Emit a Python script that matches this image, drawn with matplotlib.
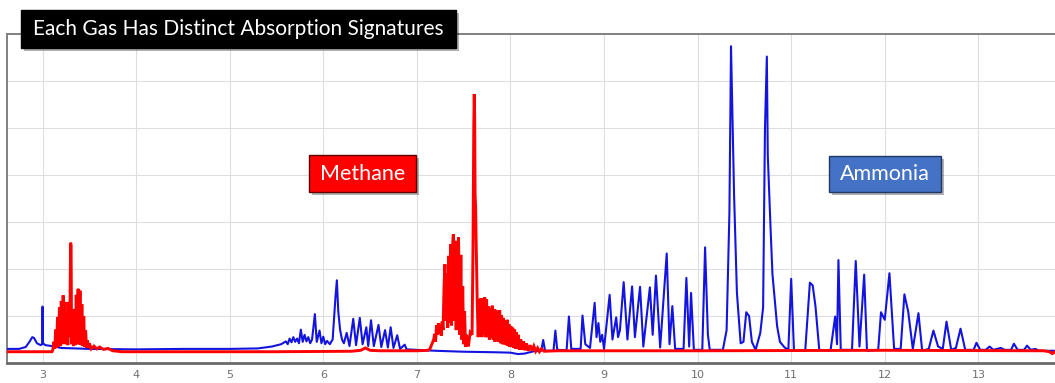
import matplotlib
matplotlib.use('Agg')
import matplotlib.pyplot as plt
from matplotlib.patches import Rectangle
import numpy as np

# wavelength (um) vs absorbance (arbitrary units)
NH3_UM = [2.62, 2.75, 2.82, 2.86, 2.89, 2.91, 2.94, 2.98, 2.995, 3.00, 3.005, 3.03, 3.10, 3.20,
          3.50, 4.00, 4.50, 5.00, 5.30, 5.45, 5.55,
          5.60, 5.62, 5.64, 5.66, 5.68, 5.70, 5.72, 5.74, 5.76, 5.78, 5.80, 5.82, 5.84, 5.86,
          5.88, 5.91, 5.93, 5.96, 5.98, 6.00, 6.02, 6.04, 6.07, 6.10, 6.13, 6.145, 6.16, 6.18,
          6.20, 6.22, 6.25, 6.28, 6.32, 6.35, 6.39, 6.42, 6.46, 6.48, 6.51, 6.54, 6.59, 6.62,
          6.66, 6.69, 6.72, 6.75, 6.79, 6.82, 6.87, 6.89,
          7.00, 7.20, 7.50, 7.80, 8.00, 8.08, 8.15, 8.25,
          8.33, 8.35, 8.37, 8.46, 8.48, 8.50, 8.60, 8.625, 8.65, 8.75, 8.77, 8.80, 8.85, 8.90,
          8.92, 8.94, 8.96, 8.98, 9.00, 9.06, 9.09, 9.13, 9.15, 9.17, 9.21, 9.25, 9.30, 9.33,
          9.385, 9.42, 9.49, 9.52, 9.555, 9.60, 9.67, 9.70, 9.73, 9.76, 9.85, 9.88, 9.91, 9.93,
          9.96, 10.05, 10.08, 10.11, 10.13, 10.27, 10.31, 10.34, 10.357, 10.39, 10.42, 10.46,
          10.49, 10.52, 10.55, 10.58, 10.62, 10.67, 10.70, 10.72, 10.74, 10.75, 10.78, 10.80,
          10.85, 10.88, 10.93, 10.97, 11.00, 11.03, 11.15, 11.20, 11.23, 11.26, 11.30, 11.42,
          11.47, 11.49, 11.505, 11.53, 11.65, 11.69, 11.73, 11.78, 11.81, 11.93, 11.96, 12.00,
          12.05, 12.10, 12.17, 12.21, 12.25, 12.30, 12.36, 12.40, 12.47, 12.52, 12.57, 12.62,
          12.66, 12.71, 12.76, 12.81, 12.86, 12.95, 12.98, 13.02, 13.08, 13.12, 13.16, 13.24,
          13.28, 13.35, 13.38, 13.42, 13.49, 13.52, 13.56, 13.61, 13.65, 13.83]
NH3_ABS = [0.30, 0.30, 0.34, 0.45, 0.55, 0.53, 0.42, 0.38, 0.40, 1.20, 0.42, 0.38, 0.36, 0.32,
           0.30, 0.29, 0.30, 0.30, 0.31, 0.35, 0.40,
           0.46, 0.40, 0.52, 0.44, 0.55, 0.45, 0.52, 0.42, 0.71, 0.45, 0.60, 0.46, 0.55, 0.42,
           0.50, 1.04, 0.45, 0.69, 0.42, 0.56, 0.40, 0.47, 0.40, 0.50, 1.40, 1.76, 1.10, 0.70,
           0.50, 0.42, 0.64, 0.36, 0.94, 0.38, 0.96, 0.40, 0.76, 0.36, 0.91, 0.36, 0.81, 0.34,
           0.70, 0.33, 0.76, 0.32, 0.59, 0.30, 0.39, 0.29,
           0.28, 0.26, 0.24, 0.23, 0.22, 0.19, 0.20, 0.25,
           0.26, 0.49, 0.26, 0.26, 0.69, 0.28, 0.27, 0.99, 0.30, 0.30, 1.01, 0.40, 0.32, 1.28,
           0.55, 0.85, 0.45, 0.60, 0.30, 1.45, 0.50, 0.97, 0.55, 0.70, 1.72, 0.50, 1.63, 0.55,
           1.62, 0.35, 1.61, 0.60, 1.86, 0.33, 2.33, 0.40, 1.21, 0.30, 0.30, 1.81, 0.35, 1.49,
           0.28, 0.28, 2.46, 0.60, 0.28, 0.28, 0.70, 3.20, 6.74, 3.56, 1.50, 0.42,
           0.45, 1.08, 1.00, 0.45, 0.28, 0.64, 1.18, 5.00, 6.52, 4.42, 2.85, 1.89,
           0.78, 0.45, 0.33, 0.28, 1.79, 0.26, 0.26, 1.71, 1.65, 1.20, 0.28, 0.26,
           0.99, 0.40, 2.19, 0.28, 0.28, 2.17, 0.35, 1.88, 0.26, 0.28, 1.08, 0.92,
           1.91, 0.30, 0.30, 1.46, 1.10, 0.30, 1.06, 0.26, 0.30, 0.69, 0.35, 0.30,
           0.88, 0.28, 0.32, 0.73, 0.28, 0.28, 0.43, 0.28, 0.28, 0.35, 0.28, 0.32,
           0.28, 0.28, 0.41, 0.28, 0.28, 0.37, 0.28, 0.30, 0.26, 0.26]

# methane: baseline plus the two dense bands (3.3 um and 7.7 um)
CH4_UM_A = [2.62, 3.10, 3.11, 3.12, 3.13, 3.14, 3.15, 3.16, 3.17, 3.18, 3.19, 3.20, 3.21, 3.22,
            3.23, 3.24, 3.25, 3.26, 3.27, 3.28, 3.29, 3.30, 3.305, 3.31, 3.32, 3.33, 3.34, 3.35,
            3.36, 3.37, 3.38, 3.39, 3.40, 3.41, 3.42, 3.43, 3.44, 3.45, 3.46, 3.47, 3.48, 3.49,
            3.50, 3.52, 3.55, 3.58, 3.61, 3.65, 3.70, 3.75, 3.85]
CH4_ABS_A = [0.24, 0.24, 0.28, 0.45, 0.30, 0.71, 0.32, 0.98, 0.35, 1.18, 0.36, 1.32, 0.40, 1.44,
             0.42, 1.30, 0.40, 1.05, 0.38, 1.30, 0.55, 2.56, 2.50, 0.40, 1.00, 0.36, 1.15, 0.38,
             1.45, 0.40, 1.58, 0.40, 1.54, 0.38, 1.25, 0.36, 1.00, 0.34, 0.70, 0.33, 0.48, 0.32,
             0.42, 0.30, 0.36, 0.30, 0.34, 0.29, 0.31, 0.26, 0.24]
CH4_UM_B = [4.50, 5.50, 6.30, 6.40, 6.45, 6.50, 6.60, 7.00, 7.12,
            7.14, 7.16, 7.18, 7.19, 7.20, 7.21, 7.22, 7.23, 7.24, 7.25, 7.26, 7.27, 7.28, 7.29,
            7.30, 7.31, 7.32, 7.33, 7.34, 7.35, 7.36, 7.37, 7.38, 7.39, 7.40, 7.41, 7.42, 7.43,
            7.44, 7.445, 7.46, 7.47, 7.48, 7.49, 7.50, 7.51, 7.52, 7.53, 7.55, 7.57, 7.59, 7.60,
            7.608, 7.613, 7.618, 7.622, 7.628, 7.635, 7.645]
CH4_ABS_B = [0.24, 0.24, 0.25, 0.27, 0.32, 0.27, 0.26, 0.26, 0.27,
             0.30, 0.40, 0.50, 0.62, 0.45, 0.80, 0.60, 0.85, 0.62, 0.82, 0.58, 0.88, 0.70, 1.60,
             2.10, 0.90, 1.90, 0.75, 2.28, 0.85, 2.53, 0.80, 2.45, 2.74, 0.90, 2.60, 0.70, 2.30,
             0.75, 2.67, 0.60, 2.30, 0.50, 1.63, 0.40, 1.10, 0.35, 0.60, 0.35, 0.65, 0.60, 2.50,
             5.00, 5.72, 5.20, 3.60, 3.30, 2.40, 1.30]
CH4_UM_C = [7.655, 7.665, 7.675, 7.685, 7.695, 7.705, 7.715, 7.725, 7.735, 7.745, 7.755, 7.765,
            7.775, 7.785, 7.795, 7.805, 7.815, 7.825, 7.835, 7.845, 7.855, 7.865, 7.875, 7.885,
            7.895, 7.905, 7.915, 7.925, 7.935, 7.945, 7.955, 7.965, 7.975, 7.985, 7.995, 8.005,
            8.015, 8.025, 8.035, 8.045, 8.055, 8.065, 8.075, 8.085, 8.095, 8.11, 8.125, 8.14,
            8.155, 8.17, 8.19, 8.21, 8.23, 8.25, 8.27, 8.29, 8.31, 8.33, 8.36,
            8.50, 10.0, 12.0, 13.70, 13.76, 13.79, 13.82]
CH4_ABS_C = [0.55, 1.35, 0.60, 1.38, 0.55, 1.38, 0.60, 1.40, 0.55, 1.35, 0.55, 1.20,
             0.50, 1.17, 0.55, 1.22, 0.50, 1.15, 0.45, 1.13, 0.50, 1.10, 0.45, 1.12,
             0.42, 1.02, 0.40, 0.96, 0.40, 0.90, 0.38, 0.92, 0.36, 0.82, 0.34, 0.78,
             0.34, 0.75, 0.32, 0.71, 0.30, 0.65, 0.30, 0.60, 0.28, 0.50, 0.28, 0.46,
             0.27, 0.42, 0.26, 0.38, 0.26, 0.36, 0.25, 0.32, 0.24, 0.30, 0.25,
             0.26, 0.26, 0.27, 0.26, 0.24, 0.20, 0.24]

X_TICKS = list(range(3, 14))

W, H = 1055, 383
fig = plt.figure(figsize=(W / 100, H / 100), dpi=100)
ax = fig.add_axes([7 / W, (H - 363) / H, (1056 - 7) / W, (363 - 34) / H])

ch4_um = CH4_UM_A + CH4_UM_B + CH4_UM_C
ch4_abs = CH4_ABS_A + CH4_ABS_B + CH4_ABS_C

ax.plot(NH3_UM, NH3_ABS, color='#1414e0', lw=1.5, zorder=3)
ax.plot(ch4_um, ch4_abs, color='#ff0000', lw=2.1, zorder=4, solid_joinstyle='miter')

ax.set_xlim(2.62, 13.83)
ax.set_ylim(0, 7)
ax.set_xticks(X_TICKS)
ax.set_yticks(range(1, 7))
ax.set_yticklabels([])
ax.tick_params(length=0, labelsize=8, labelcolor='#707070', pad=5)
ax.grid(True, color='#dedede', lw=0.8)
ax.set_axisbelow(True)
for s in ['left', 'top', 'right']:
    ax.spines[s].set_color('#808080')
    ax.spines[s].set_linewidth(1.4)
ax.spines['bottom'].set_color('#6a6a6a')
ax.spines['bottom'].set_linewidth(2)


def label_box(x0, y0, x1, y1, face, edge, text, size):
    # pixel coords, origin top left
    fig.add_artist(Rectangle(((x0 + 3) / W, (H - y1 - 3) / H), (x1 - x0) / W, (y1 - y0) / H,
                             transform=fig.transFigure, fc=(0, 0, 0, 0.3), ec='none'))
    fig.add_artist(Rectangle((x0 / W, (H - y1) / H), (x1 - x0) / W, (y1 - y0) / H,
                             transform=fig.transFigure, fc=face, ec=edge, lw=1))
    fig.text((x0 + x1) / 2 / W, 1 - (y0 + y1) / 2 / H, text, color='white', fontsize=size,
             family='Lato', ha='center', va='center')


label_box(21, 10, 456, 48, 'black', 'black', 'Each Gas Has Distinct Absorption Signatures', 15)
label_box(309, 155, 416, 192, '#ff0000', '#600000', 'Methane', 15.5)
label_box(829, 156, 941, 192, '#4472c4', '#203864', 'Ammonia', 15.5)

fig.savefig('out.png', dpi=100)
